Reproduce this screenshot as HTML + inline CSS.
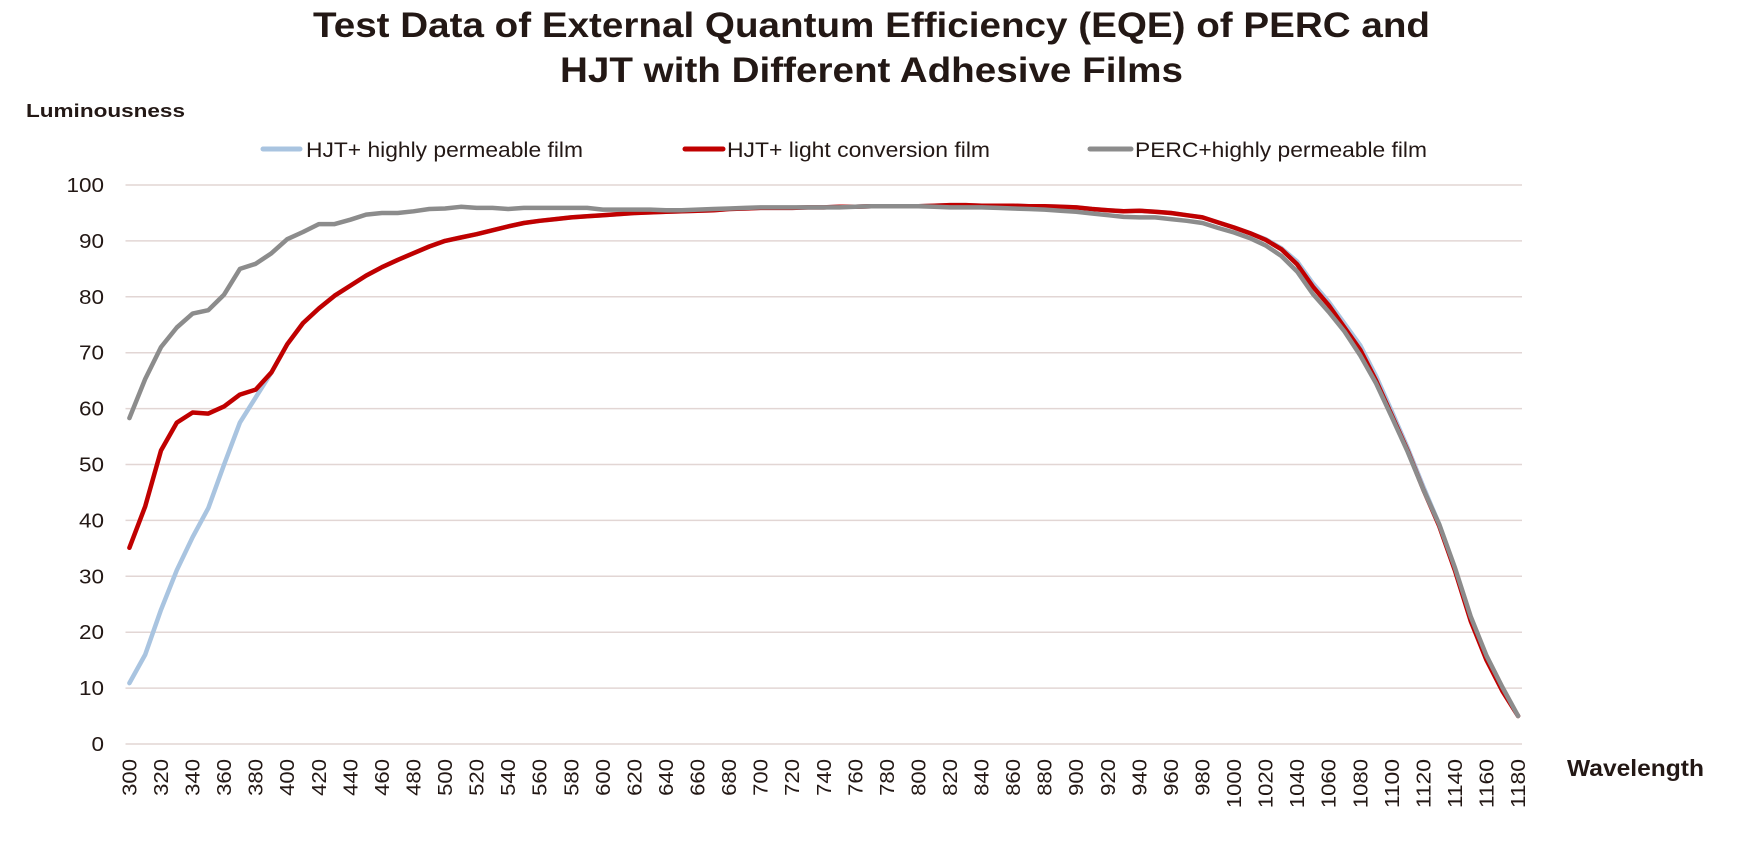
<!DOCTYPE html>
<html><head><meta charset="utf-8"><style>
html,body{margin:0;padding:0;background:#fff;}
svg text{font-family:"Liberation Sans Narrow","Liberation Sans",sans-serif;fill:#231815;}
</style></head><body>
<svg id="chart" width="1751" height="837" viewBox="0 0 1751 837" xmlns="http://www.w3.org/2000/svg">
<text x="313" y="37" font-size="35" font-weight="bold" textLength="1117" lengthAdjust="spacingAndGlyphs">Test Data of External Quantum Efficiency (EQE) of PERC and</text>
<text x="560" y="82" font-size="35" font-weight="bold" textLength="623" lengthAdjust="spacingAndGlyphs">HJT with Different Adhesive Films</text>
<text x="26" y="117" font-size="18" font-weight="bold" textLength="159" lengthAdjust="spacingAndGlyphs">Luminousness</text>
<text x="1567" y="776" font-size="23" font-weight="bold" textLength="137" lengthAdjust="spacingAndGlyphs">Wavelength</text>
<g>
 <g>
  <line x1="263" y1="149" x2="300" y2="149" stroke="#a9c4e0" stroke-width="5" stroke-linecap="round"/>
  <text x="306" y="157" font-size="21" textLength="277" lengthAdjust="spacingAndGlyphs">HJT+ highly permeable film</text>
 </g>
 <g>
  <line x1="685" y1="149" x2="723" y2="149" stroke="#c00000" stroke-width="5" stroke-linecap="round"/>
  <text x="727" y="157" font-size="21" textLength="263" lengthAdjust="spacingAndGlyphs">HJT+ light conversion film</text>
 </g>
 <g>
  <line x1="1090" y1="149" x2="1131" y2="149" stroke="#8c8c8c" stroke-width="5" stroke-linecap="round"/>
  <text x="1135" y="157" font-size="21" textLength="292" lengthAdjust="spacingAndGlyphs">PERC+highly permeable film</text>
 </g>
</g>
<g id="grid"></g><g id="yticks"></g><g id="xticks"></g><g id="series"></g>
</svg>
<script>
const wavelengths=[];for(let w=300;w<=1180;w+=10)wavelengths.push(w);
const xTickLabels=[];for(let w=300;w<=1180;w+=20)xTickLabels.push(String(w));
const yTickLabels=["0","10","20","30","40","50","60","70","80","90","100"];
const redValues=[35.1,42.5,52.5,57.5,59.3,59.1,60.4,62.5,63.4,66.5,71.5,75.3,77.9,80.2,82.0,83.8,85.3,86.6,87.8,89.0,90.0,90.6,91.2,91.9,92.6,93.2,93.6,93.9,94.2,94.4,94.6,94.8,95.0,95.1,95.2,95.3,95.4,95.5,95.7,95.8,95.9,95.9,95.9,96.0,96.0,96.1,96.1,96.2,96.2,96.2,96.2,96.3,96.4,96.4,96.3,96.3,96.3,96.2,96.2,96.1,96.0,95.7,95.5,95.3,95.4,95.2,95.0,94.6,94.2,93.3,92.4,91.4,90.2,88.5,85.8,81.8,78.5,74.5,70.5,65.0,58.8,52.5,45.5,39.0,31.0,22.0,15.0,9.5,5.0];
const grayValues=[58.3,65.3,71.0,74.5,77.0,77.6,80.4,85.0,85.9,87.8,90.3,91.6,93.0,93.0,93.8,94.7,95.0,95.0,95.3,95.7,95.8,96.1,95.9,95.9,95.7,95.9,95.9,95.9,95.9,95.9,95.6,95.6,95.6,95.6,95.5,95.5,95.6,95.7,95.8,95.9,96.0,96.0,96.0,96.0,96.0,96.0,96.1,96.2,96.2,96.2,96.2,96.1,96.0,96.0,96.0,95.9,95.8,95.7,95.6,95.4,95.2,94.9,94.6,94.3,94.2,94.2,93.9,93.6,93.2,92.3,91.5,90.5,89.2,87.3,84.5,80.5,77.3,73.8,69.5,64.5,58.5,52.3,45.5,39.3,31.5,22.8,15.8,10.2,5.0];
const blueValues=[10.9,16.0,24.0,31.1,37.0,42.2,50.0,57.5,62.0,66.5,71.5,75.3,77.9,80.2,82.0,83.8,85.3,86.6,87.8,89.0,90.0,90.6,91.2,91.9,92.6,93.2,93.6,93.9,94.2,94.4,94.6,94.8,95.0,95.1,95.2,95.3,95.4,95.5,95.7,95.8,95.9,95.9,95.9,96.0,96.0,96.1,96.1,96.2,96.2,96.2,96.2,96.3,96.4,96.4,96.3,96.3,96.3,96.2,96.2,96.1,96.0,95.7,95.5,95.3,95.4,95.2,95.0,94.6,94.2,93.3,92.4,91.4,90.3,88.7,86.3,82.4,79.1,75.2,71.3,65.8,59.5,53.0,46.0,39.3,31.2,22.2,15.2,9.7,5.0];

const NS="http://www.w3.org/2000/svg";
const X0=125.5,STEP=7.89; // per 5nm category
function xScale(w){return X0+((w-300)/5+0.5)*STEP;}
function yScale(v){return 744-5.59*v;}
const grid=document.getElementById('grid'),yt=document.getElementById('yticks'),xt=document.getElementById('xticks'),ser=document.getElementById('series');
yTickLabels.forEach(l=>{
 const v=parseFloat(l),y=yScale(v);
 const ln=document.createElementNS(NS,'line');
 
 
 ln.setAttribute('x1',X0);ln.setAttribute('x2',1522);ln.setAttribute('y1',y);ln.setAttribute('y2',y);
 ln.setAttribute('stroke','#e2d6d4');ln.setAttribute('stroke-width','1.5');grid.appendChild(ln);
 const t=document.createElementNS(NS,'text');
 
 
 t.setAttribute('x',104);t.setAttribute('y',y+7);t.setAttribute('text-anchor','end');t.setAttribute('font-size','20');
 t.setAttribute('textLength',l.length*12.5);t.setAttribute('lengthAdjust','spacingAndGlyphs');
 t.textContent=l;yt.appendChild(t);
});
xTickLabels.forEach(l=>{
 const x=xScale(parseFloat(l));
 const t=document.createElementNS(NS,'text');
 
 
 t.setAttribute('font-size','20');t.setAttribute('text-anchor','end');
 t.setAttribute('textLength',l.length*12.3);t.setAttribute('lengthAdjust','spacingAndGlyphs');
 t.setAttribute('transform','translate('+(x+7)+',759) rotate(-90)');
 t.textContent=l;xt.appendChild(t);
});
function drawSeries(vals,color,name){
 const p=document.createElementNS(NS,'polyline');
 
 
 p.setAttribute('points',vals.map((v,i)=>xScale(wavelengths[i]).toFixed(1)+','+yScale(v).toFixed(1)).join(' '));
 p.setAttribute('fill','none');p.setAttribute('stroke',color);p.setAttribute('stroke-width','4.5');
 p.setAttribute('stroke-linejoin','round');p.setAttribute('stroke-linecap','round');
 ser.appendChild(p);
}
drawSeries(blueValues,'#a9c4e0','line-hjt-permeable');
drawSeries(redValues,'#c00000','line-hjt-conversion');
drawSeries(grayValues,'#8c8c8c','line-perc-permeable');
</script>
</body></html>
